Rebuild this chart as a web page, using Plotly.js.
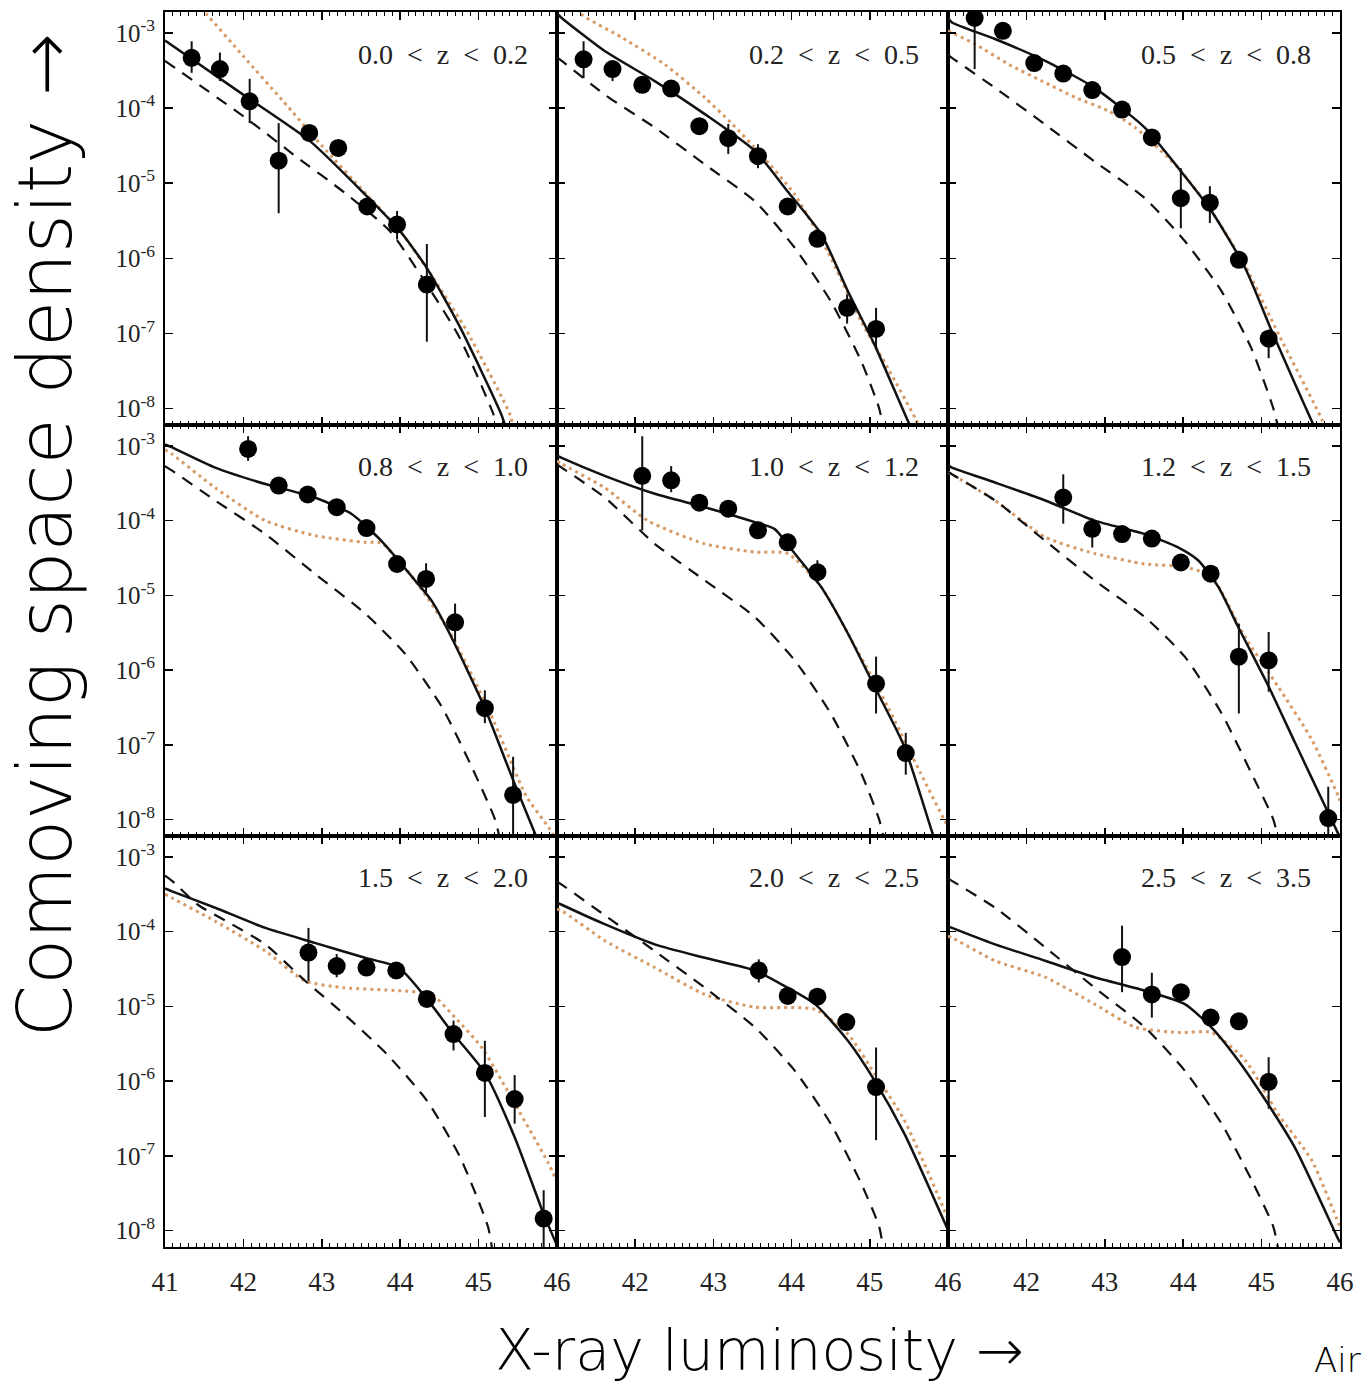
<!DOCTYPE html>
<html>
<head>
<meta charset="utf-8">
<script src="https://cdn.plot.ly/plotly-3.0.1.min.js"></script>
<style>
html,body{margin:0;padding:0;background:#fff;}
#chart{width:1364px;height:1382px;}
</style>
</head>
<body>
<div id="chart"></div>
<script>
// ---------- DATA ----------
const zLabels = ["0.0 < z < 0.2","0.2 < z < 0.5","0.5 < z < 0.8",
                 "0.8 < z < 1.0","1.0 < z < 1.2","1.2 < z < 1.5",
                 "1.5 < z < 2.0","2.0 < z < 2.5","2.5 < z < 3.5"];

// X-ray luminosity (log L) of binned data points
const ptLum = [
  [41.34,41.70,42.08,42.45,42.84,43.21,43.58,43.96,44.34],
  [41.34,41.71,42.09,42.46,42.82,43.19,43.57,43.95,44.33,44.71,45.08],
  [41.34,41.70,42.10,42.47,42.84,43.22,43.60,43.97,44.34,44.71,45.09],
  [42.06,42.45,42.82,43.19,43.57,43.96,44.33,44.70,45.08,45.44],
  [42.09,42.46,42.82,43.19,43.57,43.95,44.33,45.08,45.46],
  [42.47,42.84,43.22,43.60,43.97,44.35,44.71,45.09,45.85],
  [42.83,43.19,43.57,43.95,44.34,44.68,45.08,45.46,45.83],
  [43.58,43.95,44.33,44.70,45.08],
  [43.22,43.60,43.97,44.35,44.71,45.09]
];
// log10 comoving space density of data points
const ptLogPhi = [
  [-3.33,-3.48,-3.91,-4.70,-4.33,-4.53,-5.31,-5.55,-6.35],
  [-3.35,-3.48,-3.69,-3.74,-4.24,-4.40,-4.64,-5.31,-5.74,-6.66,-6.94],
  [-2.80,-2.97,-3.40,-3.54,-3.76,-4.02,-4.39,-5.20,-5.26,-6.02,-7.07],
  [-3.04,-3.53,-3.65,-3.82,-4.10,-4.58,-4.78,-5.36,-6.51,-7.67],
  [-3.40,-3.46,-3.76,-3.84,-4.13,-4.29,-4.69,-6.18,-7.11],
  [-3.69,-4.11,-4.18,-4.24,-4.56,-4.71,-5.82,-5.87,-7.98],
  [-4.28,-4.46,-4.48,-4.52,-4.90,-5.37,-5.89,-6.24,-7.84],
  [-4.52,-4.86,-4.87,-5.21,-6.08],
  [-4.34,-4.84,-4.81,-5.15,-5.20,-6.01]
];
// upper end of error bar (log10)
const ptLogHi = [
  [-3.11,-3.26,-3.61,-4.20,-4.33,-4.53,-5.31,-5.37,-5.81],
  [-3.11,-3.37,-3.69,-3.74,-4.24,-4.21,-4.48,-5.31,-5.74,-6.48,-6.66],
  [-2.60,-2.97,-3.40,-3.54,-3.76,-4.02,-4.39,-4.80,-5.04,-6.02,-6.95],
  [-2.87,-3.53,-3.65,-3.82,-4.10,-4.58,-4.57,-5.11,-6.27,-7.16],
  [-2.87,-3.27,-3.76,-3.84,-4.13,-4.29,-4.53,-5.82,-6.84],
  [-3.38,-3.97,-4.18,-4.24,-4.56,-4.71,-5.38,-5.49,-7.56],
  [-3.95,-4.30,-4.48,-4.52,-4.90,-5.19,-5.46,-5.92,-7.46],
  [-4.37,-4.86,-4.87,-5.10,-5.55],
  [-3.92,-4.55,-4.81,-5.15,-5.20,-5.68]
];
// lower end of error bar (log10)
const ptLogLo = [
  [-3.53,-3.64,-4.20,-5.40,-4.33,-4.53,-5.31,-5.75,-7.11],
  [-3.60,-3.64,-3.69,-3.74,-4.24,-4.61,-4.80,-5.31,-5.74,-6.87,-7.20],
  [-3.48,-2.97,-3.40,-3.54,-3.76,-4.02,-4.39,-5.60,-5.53,-6.02,-7.33],
  [-3.20,-3.53,-3.65,-3.82,-4.10,-4.58,-4.97,-5.62,-6.71,-8.50],
  [-4.13,-3.62,-3.76,-3.84,-4.13,-4.29,-4.80,-6.58,-7.40],
  [-4.04,-4.36,-4.18,-4.24,-4.56,-4.71,-6.58,-6.29,-8.50],
  [-4.66,-4.61,-4.48,-4.52,-4.90,-5.59,-6.48,-6.57,-8.50],
  [-4.68,-4.86,-4.87,-5.30,-6.79],
  [-4.81,-5.15,-4.81,-5.15,-5.20,-6.37]
];

// solid curve: total model
const totLum = [
  [41.0,42.08,42.85,43.57,44.0,44.34,44.76,45.29,45.36],
  [41.0,41.06,41.61,42.25,42.89,43.53,43.95,44.38,44.72,45.06,45.48,45.55],
  [41.0,41.05,41.60,42.24,42.87,43.51,43.94,44.36,44.79,45.13,45.43,45.64,45.70],
  [41.0,41.09,41.64,42.28,42.91,43.38,43.76,44.19,44.40,44.63,45.08,45.44,45.74,45.80],
  [41.0,41.06,41.61,42.25,42.89,43.53,43.78,44.04,44.38,44.72,45.06,45.44,45.82,45.88],
  [41.0,41.05,41.60,42.24,42.87,43.51,43.94,44.19,44.45,44.70,45.09,45.43,45.85,46.0],
  [41.0,41.09,41.64,42.28,42.91,43.55,43.98,44.34,44.68,45.08,45.46,45.83,46.0],
  [41.0,41.06,41.61,42.25,42.89,43.53,43.95,44.30,44.72,45.06,45.44,45.99],
  [41.0,41.05,41.60,42.24,42.87,43.51,44.02,44.36,44.70,45.04,45.43,45.98,46.0]
];
const totLogPhi = [
  [-3.10,-3.88,-4.44,-5.17,-5.64,-6.13,-6.91,-8.08,-8.30],
  [-2.74,-2.80,-3.24,-3.64,-4.08,-4.57,-5.11,-5.68,-6.44,-7.15,-8.15,-8.30],
  [-2.80,-2.86,-3.08,-3.37,-3.73,-4.26,-4.80,-5.37,-6.13,-6.97,-7.68,-8.17,-8.30],
  [-2.98,-3.02,-3.29,-3.51,-3.69,-3.91,-4.27,-4.80,-5.07,-5.51,-6.51,-7.47,-8.24,-8.40],
  [-3.13,-3.16,-3.40,-3.64,-3.82,-4.02,-4.11,-4.44,-4.89,-5.51,-6.22,-7.02,-8.24,-8.40],
  [-3.26,-3.29,-3.49,-3.73,-4.00,-4.18,-4.36,-4.53,-4.89,-5.42,-6.22,-6.98,-7.91,-8.24],
  [-3.42,-3.46,-3.68,-3.95,-4.15,-4.35,-4.48,-4.90,-5.37,-5.89,-6.75,-7.78,-8.20],
  [-3.61,-3.64,-3.90,-4.17,-4.35,-4.52,-4.75,-4.97,-5.46,-5.99,-6.70,-7.97],
  [-3.93,-3.95,-4.17,-4.39,-4.61,-4.79,-4.97,-5.28,-5.72,-6.24,-6.90,-8.12,-8.16]
];

// dashed curve
const dashLum = [
  [41.0,42.08,42.64,43.32,43.87,44.34,44.76,45.19,45.25],
  [41.0,41.06,41.61,42.25,42.89,43.53,44.04,44.50,44.89,45.12,45.18],
  [41.0,41.05,41.60,42.24,42.87,43.51,44.02,44.49,44.87,45.15,45.22],
  [41.0,41.09,41.64,42.28,42.91,43.55,44.06,44.53,44.91,45.21,45.28],
  [41.0,41.06,41.61,42.25,42.89,43.53,44.04,44.50,44.89,45.12,45.19],
  [41.0,41.05,41.60,42.24,42.87,43.51,44.02,44.49,44.87,45.15,45.22],
  [41.0,41.09,41.42,41.85,42.28,42.79,43.28,43.83,44.34,44.76,45.12,45.18],
  [41.0,41.06,41.61,42.25,42.89,43.53,44.04,44.50,44.89,45.12,45.18],
  [41.0,41.05,41.60,42.24,42.87,43.51,44.02,44.49,44.87,45.15,45.22]
];
const dashLogPhi = [
  [-3.37,-4.17,-4.62,-5.15,-5.64,-6.35,-7.06,-8.08,-8.30],
  [-3.33,-3.37,-3.82,-4.26,-4.75,-5.24,-5.86,-6.57,-7.37,-8.00,-8.30],
  [-3.29,-3.33,-3.73,-4.22,-4.71,-5.20,-5.77,-6.44,-7.20,-8.00,-8.30],
  [-3.27,-3.33,-3.73,-4.18,-4.71,-5.24,-5.78,-6.49,-7.29,-8.00,-8.30],
  [-3.25,-3.29,-3.69,-4.31,-4.80,-5.29,-5.87,-6.58,-7.38,-8.00,-8.30],
  [-3.35,-3.38,-3.73,-4.27,-4.80,-5.29,-5.82,-6.58,-7.38,-8.00,-8.30],
  [-3.25,-3.32,-3.64,-3.90,-4.17,-4.66,-5.10,-5.64,-6.26,-7.01,-7.95,-8.30],
  [-3.33,-3.37,-3.78,-4.26,-4.75,-5.28,-5.86,-6.57,-7.37,-7.95,-8.30],
  [-3.29,-3.32,-3.68,-4.21,-4.75,-5.28,-5.86,-6.57,-7.32,-7.95,-8.30]
];

// dotted (orange) curve
const dotLum = [
  [41.40,41.53,42.00,42.50,43.00,43.57,44.0,44.42,44.85,45.40,45.45],
  [41.20,41.31,41.83,42.38,42.89,43.23,43.61,44.04,44.46,44.89,45.23,45.59,45.65],
  [41.0,41.35,41.78,42.20,42.63,43.05,43.39,43.94,44.36,44.79,45.22,45.77,45.82],
  [41.0,41.09,41.64,42.28,42.91,43.55,43.76,44.19,44.63,45.15,45.61,45.91,46.0],
  [41.0,41.06,41.61,42.16,42.89,43.53,43.95,44.38,44.72,45.23,45.65,45.95,46.0],
  [41.0,41.05,41.60,42.24,42.87,43.51,44.02,44.36,44.79,45.21,45.64,45.98,46.0],
  [41.0,41.09,41.64,42.28,42.79,43.28,43.98,44.40,44.70,45.04,45.46,45.89,46.0],
  [41.0,41.06,41.61,42.25,42.89,43.53,44.30,44.72,45.06,45.44,45.95,46.0],
  [41.0,41.05,41.60,42.24,42.87,43.39,43.94,44.36,44.79,45.21,45.64,45.98,46.0]
];
const dotLogPhi = [
  [-2.60,-2.75,-3.31,-3.90,-4.50,-5.15,-5.64,-6.26,-6.97,-8.08,-8.30],
  [-2.60,-2.75,-3.06,-3.42,-3.86,-4.20,-4.62,-5.15,-5.91,-6.84,-7.46,-8.15,-8.30],
  [-2.97,-3.15,-3.42,-3.64,-3.86,-4.04,-4.26,-4.80,-5.37,-6.10,-7.02,-8.15,-8.30],
  [-3.05,-3.11,-3.56,-4.00,-4.20,-4.29,-4.30,-4.80,-5.49,-6.58,-7.69,-8.13,-8.30],
  [-3.20,-3.24,-3.56,-4.00,-4.31,-4.42,-4.44,-4.89,-5.51,-6.49,-7.38,-8.00,-8.10],
  [-3.35,-3.38,-3.73,-4.22,-4.44,-4.58,-4.62,-4.75,-5.56,-6.22,-6.93,-7.69,-7.75],
  [-3.50,-3.55,-3.86,-4.26,-4.66,-4.75,-4.79,-4.84,-5.15,-5.55,-6.30,-7.10,-7.35],
  [-3.70,-3.72,-4.12,-4.48,-4.84,-5.01,-5.04,-5.37,-5.90,-6.52,-7.72,-7.85],
  [-4.06,-4.08,-4.39,-4.61,-4.97,-5.28,-5.35,-5.35,-5.72,-6.44,-7.06,-7.90,-7.95]
];

// axis ticks
const xTickValsFirst = [41,42,43,44,45,46];
const xTickValsOther = [42,43,44,45,46];
const yTickVals = [1e-3,1e-4,1e-5,1e-6,1e-7,1e-8];
const yTickText = ["10<sup>-3</sup>","10<sup>-4</sup>","10<sup>-5</sup>","10<sup>-6</sup>","10<sup>-7</sup>","10<sup>-8</sup>"];

// ---------- BUILD ----------
const pow10 = v => Math.pow(10, v);
const xDom = [[0, 392/1175], [392/1175, 783/1175], [783/1175, 1]];
const yDom = [[822/1235, 1], [411/1235, 822/1235], [0, 411/1235]];
const serif = "Liberation Serif, Times New Roman, serif";

const traces = [];
const layout = {
  width: 1364, height: 1382,
  margin: {l: 165, r: 24, t: 12, b: 135},
  paper_bgcolor: "#fff", plot_bgcolor: "#fff",
  showlegend: false,
  annotations: []
};

for (let i = 0; i < 9; i++) {
  const s = i === 0 ? "" : String(i + 1);
  const xa = "x" + s, ya = "y" + s;
  const row = Math.floor(i / 3), col = i % 3;

  traces.push({
    type: "scatter", mode: "lines", xaxis: xa, yaxis: ya,
    x: dotLum[i], y: dotLogPhi[i].map(pow10),
    line: {color: "#d69a66", width: 3, dash: "3px,4px", shape: "spline", smoothing: 0.6},
    hoverinfo: "skip"
  });
  traces.push({
    type: "scatter", mode: "lines", xaxis: xa, yaxis: ya,
    x: dashLum[i], y: dashLogPhi[i].map(pow10),
    line: {color: "#111", width: 2.2, dash: "12px,9px", shape: "spline", smoothing: 0.6},
    hoverinfo: "skip"
  });
  traces.push({
    type: "scatter", mode: "lines", xaxis: xa, yaxis: ya,
    x: totLum[i], y: totLogPhi[i].map(pow10),
    line: {color: "#111", width: 2.5, shape: "spline", smoothing: 0.6},
    hoverinfo: "skip"
  });
  const yv = ptLogPhi[i].map(pow10);
  traces.push({
    type: "scatter", mode: "markers", xaxis: xa, yaxis: ya,
    x: ptLum[i], y: yv,
    marker: {color: "#000", size: 18},
    error_y: {
      type: "data", symmetric: false,
      array: ptLogHi[i].map((h, k) => pow10(h) - yv[k]),
      arrayminus: ptLogLo[i].map((l, k) => yv[k] - pow10(l)),
      color: "#111", thickness: 2, width: 0
    }
  });

  layout["xaxis" + s] = {
    domain: xDom[col], anchor: ya, range: [41, 46],
    tickmode: "array", tickvals: col === 0 ? xTickValsFirst : xTickValsOther,
    showticklabels: row === 2,
    ticks: "inside", ticklen: 8, tickwidth: 1.5, tickcolor: "#000",
    minor: {dtick: 0.1, ticks: "inside", ticklen: 4, tickwidth: 1, tickcolor: "#000"},
    mirror: "ticks", showline: true, linewidth: 2, linecolor: "#000",
    showgrid: false, zeroline: false,
    tickfont: {family: serif, size: 27, color: "#222"},
    ticklabelstandoff: 10
  };
  layout["yaxis" + s] = {
    domain: yDom[row], anchor: xa, type: "log", range: [-8.22, -2.72],
    tickmode: "array", tickvals: yTickVals, ticktext: yTickText,
    showticklabels: col === 0,
    ticks: "inside", ticklen: 8, tickwidth: 1.5, tickcolor: "#000",
    mirror: "ticks", showline: true, linewidth: 2, linecolor: "#000",
    showgrid: false, zeroline: false,
    tickfont: {family: serif, size: 25, color: "#222"},
    ticklabelstandoff: 3
  };

  layout.annotations.push({
    xref: xa + " domain", yref: ya + " domain",
    x: 0.93, y: 0.898, xanchor: "right", yanchor: "middle",
    text: zLabels[i].replace(/ /g, "\u2002"), showarrow: false,
    font: {family: serif, size: 28, color: "#222"}
  });
}

const titleFont = {family: "DejaVu Sans, sans-serif", color: "#000", weight: 200};
layout.annotations.push({
  xref: "paper", yref: "paper", x: -0.102, y: 0.5765,
  xanchor: "center", yanchor: "middle", textangle: -90,
  text: "Comoving space density \u2192", showarrow: false,
  font: Object.assign({size: 75}, titleFont)
});
layout.annotations.push({
  xref: "paper", yref: "paper", x: 0.506, y: -0.0834,
  xanchor: "center", yanchor: "middle",
  text: "X-ray luminosity \u2192", showarrow: false,
  font: Object.assign({size: 57}, titleFont)
});
layout.annotations.push({
  xref: "paper", yref: "paper", x: 0.976, y: -0.0915,
  xanchor: "left", yanchor: "middle",
  text: "Air", showarrow: false,
  font: Object.assign({size: 34}, titleFont)
});

Plotly.newPlot("chart", traces, layout, {staticPlot: true, displayModeBar: false});
</script>
</body>
</html>
